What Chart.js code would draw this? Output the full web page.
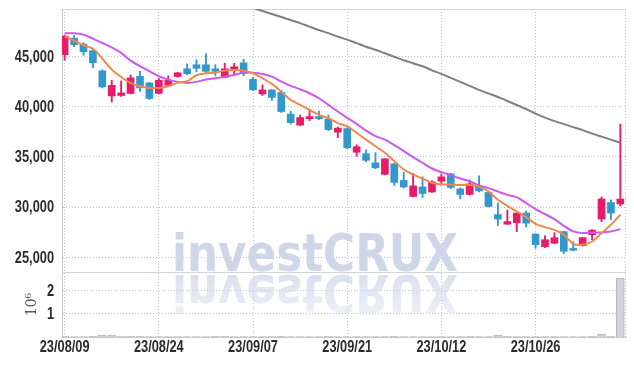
<!DOCTYPE html>
<html>
<head>
<meta charset="utf-8">
<script src="https://cdn.jsdelivr.net/npm/chart.js@4.4.0/dist/chart.umd.min.js"></script>
<style>
  html, body { margin: 0; padding: 0; background: #fff; }
  #wrap { width: 634px; height: 366px; }
</style>
</head>
<body>
<div id="wrap"><canvas id="chart"></canvas></div>
<script>
// trading days shown on the chart
const dates = ['23/08/09','23/08/10','23/08/11','23/08/14','23/08/16','23/08/17','23/08/18','23/08/21','23/08/22','23/08/23',
  '23/08/24','23/08/25','23/08/28','23/08/29','23/08/30','23/08/31','23/09/01','23/09/04','23/09/05','23/09/06',
  '23/09/07','23/09/08','23/09/11','23/09/12','23/09/13','23/09/14','23/09/15','23/09/18','23/09/19','23/09/20',
  '23/09/21','23/09/22','23/09/25','23/09/26','23/09/27','23/10/04','23/10/05','23/10/06','23/10/10','23/10/11',
  '23/10/12','23/10/13','23/10/16','23/10/17','23/10/18','23/10/19','23/10/20','23/10/23','23/10/24','23/10/25',
  '23/10/26','23/10/27','23/10/30','23/10/31','23/11/01','23/11/02','23/11/03','23/11/06','23/11/07','23/11/08']

const open = [45150,46800,46200,45550,43550,41050,41100,41300,43000,42350,
  41300,42100,42980,43750,44150,44150,43750,42900,43700,44350,
  42700,41250,41650,41400,39250,38150,38780,39000,38750,37450,
  37800,35450,35300,34400,33250,34300,32650,31050,32000,31500,
  32570,33300,31800,31250,32100,31450,29250,28300,28450,29400,
  27300,26050,26400,27550,25880,26150,27250,28800,30450,30300]
const high = [47100,47050,46350,45800,43650,42600,42550,43150,43500,42400,
  42800,43050,43400,44250,44650,45250,44150,44300,44300,44700,
  42900,42150,41700,41600,39550,39150,39700,39550,39150,37950,
  37900,36200,35700,35400,34800,34350,33450,33350,33000,32600,
  33300,33350,31900,32700,33100,31500,30400,29700,29400,29600,
  27350,27150,27450,27600,26550,26950,27750,31000,30700,38250]
const low = [44600,45950,45100,43850,41850,40450,41000,41250,41500,40700,
  41250,42000,42900,43150,43450,43350,43050,42850,43150,43050,
  41600,41100,40600,39400,38250,38100,38600,38700,37600,36900,
  35800,35050,34500,33800,33200,32150,31900,31000,30950,31450,
  32300,31850,30800,31200,31500,30000,28150,28250,27550,28000,
  25900,25950,26350,25350,25650,26100,26750,28550,28750,30100]
const close = [47000,46150,45450,44350,41950,42100,41350,42850,41850,40800,
  42600,42600,43350,43270,43800,43500,43500,43750,43950,43300,
  41650,41650,40900,39500,38400,38900,39000,38780,37700,37850,
  35900,36000,34650,33900,34800,32450,32000,32100,31350,32500,
  33000,31950,31250,32300,31600,30050,28800,28550,29400,28400,
  26250,26750,26950,25600,25700,26950,27700,30800,29400,30800]

// moving averages
const ma5 = [46990,46550,46090,45760,44760,43670,42940,42350,42020,41850,
  41850,42020,42350,42510,43110,43300,43370,43570,43640,43570,
  43310,42810,42250,41480,40660,40160,39660,39170,38840,38350,
  38040,37380,36710,36050,35390,34560,33730,33230,32830,32410,
  32240,32240,32180,32180,32000,31540,30720,30120,29550,28990,
  28330,28000,27730,27240,26340,26240,26570,27410,28230,29230]
const ma20 = [47290,47290,47150,46750,46320,45890,45330,44560,44010,43510,
  43010,42670,42450,42350,42450,42690,42810,42970,43140,43370,
  43370,43240,42970,42480,42050,41720,41320,40820,40160,39500,
  38870,38270,37600,37050,36710,36150,35560,34960,34390,33830,
  33470,33170,32830,32570,32150,31880,31540,31210,30980,30390,
  29790,29290,28800,28130,27570,27410,27470,27470,27570,27800]
const ma60 = [null,null,null,null,null,null,null,null,null,null,
  null,null,null,null,null,null,null,51000,50400,50100,
  49800,49500,49200,48900,48600,48300,47950,47600,47300,46950,
  46650,46300,45950,45650,45300,44950,44600,44300,44000,43600,
  43250,42850,42450,42050,41650,41300,40950,40550,40150,39750,
  39300,38900,38550,38250,37950,37650,37300,37000,36700,36400]

// volume, millions of shares
const volume = [0.03,0.02,0.02,0.03,0.07,0.08,0.04,0.03,0.03,0.02,
  0.02,0.02,0.02,0.02,0.02,0.02,0.03,0.03,0.02,0.02,
  0.02,0.02,0.02,0.03,0.02,0.02,0.02,0.02,0.03,0.02,
  0.02,0.02,0.02,0.02,0.02,0.03,0.02,0.02,0.02,0.02,
  0.02,0.02,0.02,0.03,0.02,0.02,0.08,0.03,0.02,0.02,
  0.02,0.02,0.02,0.02,0.02,0.02,0.03,0.11,0.04,2.53]

const dateTicks = [0, 10, 20, 30, 40, 50]
const priceTicks = [25000, 30000, 35000, 40000, 45000]
const volTicks = [1, 2]

const UP = 'rgb(232, 26, 106)'
const DOWN = 'rgb(51, 153, 204)'
const GRID = 'rgba(176, 182, 214, 0.85)'
const SQUEEZE = 0.8 // the original uses a condensed face, not installed here

const candleColor = close.map((c, i) => c >= open[i] ? UP : DOWN)
const wickData = dates.map((d, i) => ({x: i, y: [low[i], high[i]]}))
const bodyData = dates.map((d, i) => ({x: i, y: [Math.min(open[i], close[i]), Math.max(open[i], close[i])]}))
const xy = arr => arr.map((v, i) => ({x: i, y: v}))

const decor = {
  id: 'decor',
  beforeDatasetsDraw(chart) {
    const ctx = chart.ctx
    const area = chart.chartArea
    const sep = chart.scales.y.bottom
    const base = sep - 1

    // watermark + reflection
    ctx.save()
    ctx.font = 'bold 52px "DejaVu Sans", sans-serif'
    ctx.textBaseline = 'alphabetic'
    ctx.fillStyle = 'rgb(208, 214, 233)'
    ctx.fillText('investCRUX', 172, base, 286)
    ctx.translate(0, 2 * base + 4)
    ctx.scale(1, -1)
    const g = ctx.createLinearGradient(0, base - 42, 0, base)
    g.addColorStop(0, 'rgba(208, 214, 233, 0.35)')
    g.addColorStop(1, 'rgba(208, 214, 233, 0.75)')
    ctx.fillStyle = g
    ctx.fillText('investCRUX', 172, base, 286)
    ctx.restore()

    // panel frame
    ctx.save()
    ctx.strokeStyle = '#d4d4d8'
    ctx.lineWidth = 1
    ctx.beginPath()
    ctx.moveTo(area.left, area.top + 0.5)
    ctx.lineTo(area.right, area.top + 0.5)
    ctx.moveTo(area.left, Math.round(sep) + 0.5)
    ctx.lineTo(area.right, Math.round(sep) + 0.5)
    ctx.stroke()
    ctx.setLineDash([1, 2])
    ctx.strokeStyle = GRID
    ctx.beginPath()
    ctx.moveTo(area.right - 0.5, area.top)
    ctx.lineTo(area.right - 0.5, area.bottom)
    ctx.stroke()
    ctx.restore()
  }
}

// tick labels, drawn squeezed to mimic the narrow face
const tickText = {
  id: 'tickText',
  afterDraw(chart) {
    const ctx = chart.ctx
    const {x, y, yv} = chart.scales
    ctx.save()
    ctx.font = 'bold 16px "Liberation Sans", sans-serif'
    ctx.fillStyle = '#2b2b2b'
    ctx.textBaseline = 'middle'
    const put = (t, px, py, align) => {
      ctx.textAlign = align
      ctx.fillText(t, px, py, ctx.measureText(t).width * SQUEEZE)
    }
    dateTicks.forEach(v => put(dates[v], x.getPixelForValue(v), x.top + 11, 'center'))
    priceTicks.forEach(v => put(v.toLocaleString('en-US'), y.right - 8, y.getPixelForValue(v) + 1, 'right'))
    volTicks.forEach(v => put(String(v), yv.right - 8, yv.getPixelForValue(v) + 1, 'right'))
    ctx.restore()
  }
}

new Chart(document.getElementById('chart'), {
  type: 'bar',
  data: {
    datasets: [
      { type: 'line', label: 'MA5', data: xy(ma5), yAxisID: 'y', borderColor: 'rgb(240, 136, 76)',
        borderWidth: 2, pointRadius: 0, tension: 0.3, order: 0 },
      { type: 'line', label: 'MA20', data: xy(ma20), yAxisID: 'y', borderColor: 'rgb(204, 88, 238)',
        borderWidth: 2, pointRadius: 0, tension: 0.3, order: 0 },
      { type: 'line', label: 'MA60', data: xy(ma60), yAxisID: 'y', borderColor: 'rgb(128, 128, 128)',
        borderWidth: 2, pointRadius: 0, tension: 0.3, order: 0 },
      { label: 'body', data: bodyData, yAxisID: 'y', backgroundColor: candleColor,
        barThickness: 7, grouped: false, order: 1 },
      { label: 'wick', data: wickData, yAxisID: 'y', backgroundColor: candleColor,
        barThickness: 1.2, grouped: false, order: 2 },
      { label: 'volume', data: xy(volume), yAxisID: 'yv', backgroundColor: 'rgba(206, 206, 214, 0.9)',
        borderColor: 'rgb(185, 185, 195)', borderWidth: 1, barThickness: 8, grouped: false, order: 3 }
    ]
  },
  options: {
    responsive: true,
    maintainAspectRatio: false,
    animation: false,
    layout: { padding: { left: 4, right: 8, top: 9, bottom: 0 } },
    plugins: { legend: { display: false }, tooltip: { enabled: false } },
    scales: {
      x: {
        type: 'linear',
        offset: false,
        min: -0.28,
        max: 59.6,
        afterBuildTicks: axis => { axis.ticks = dateTicks.map(v => ({value: v})) },
        afterFit: axis => { axis.height = 29 },
        ticks: { display: false },
        grid: { color: GRID, drawTicks: false, offset: false },
        border: { color: '#c8c8cc', dash: [1, 2] }
      },
      yv: {
        type: 'linear',
        position: 'left',
        stack: 'panels',
        stackWeight: 1,
        min: 0,
        max: 2.79,
        afterBuildTicks: axis => { axis.ticks = volTicks.map(v => ({value: v})) },
        afterFit: axis => { axis.width = 58 },
        ticks: { display: false },
        grid: { color: GRID, drawTicks: false },
        border: { color: '#c8c8cc', dash: [1, 2] },
        title: { display: true, text: '10\u2076', font: { family: '"DejaVu Serif", serif', size: 14 },
          color: '#555', padding: { top: 20, bottom: 0 } }
      },
      y: {
        type: 'linear',
        position: 'left',
        stack: 'panels',
        stackWeight: 4.05,
        min: 23530,
        max: 49700,
        afterBuildTicks: axis => { axis.ticks = priceTicks.map(v => ({value: v})) },
        afterFit: axis => { axis.width = 58 },
        ticks: { display: false },
        grid: { color: GRID, drawTicks: false },
        border: { color: '#c8c8cc', dash: [1, 2] }
      }
    }
  },
  plugins: [decor, tickText]
})
</script>
</body>
</html>
